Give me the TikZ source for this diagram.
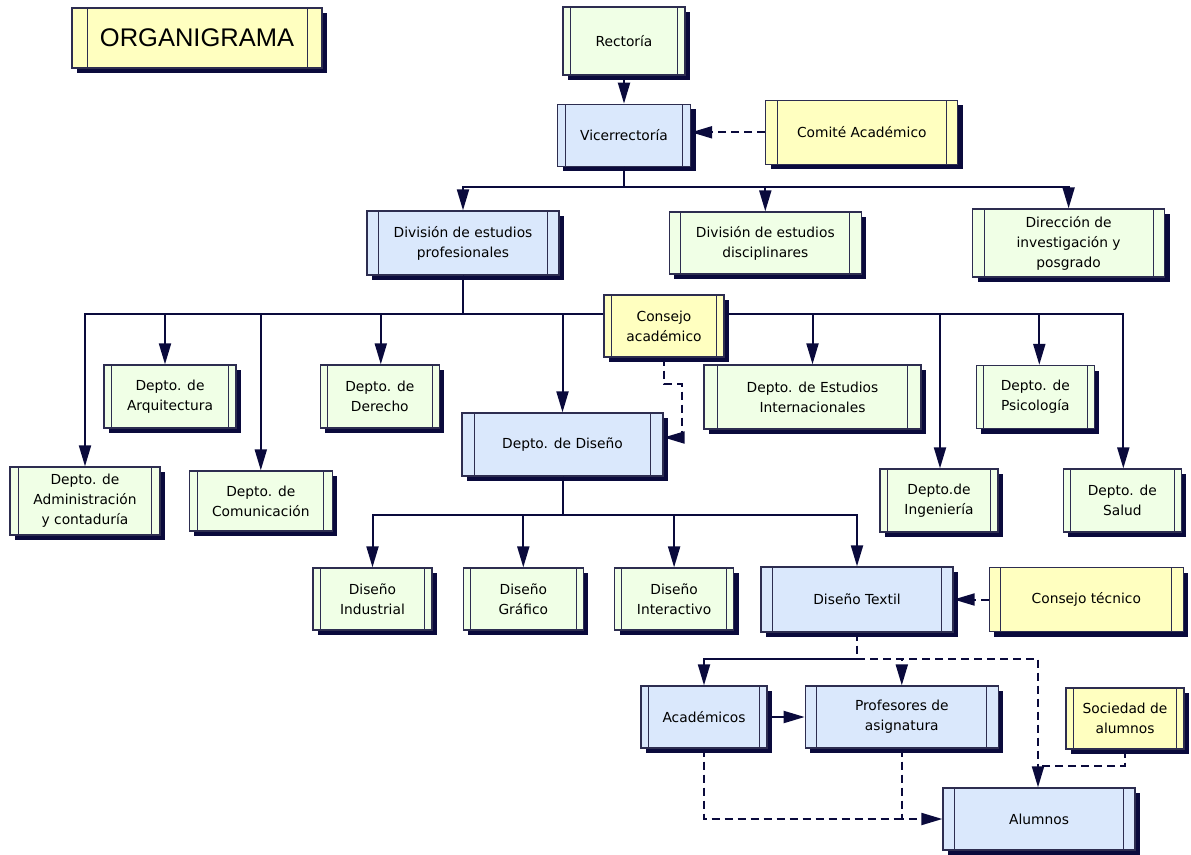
\documentclass[tikz,border=0pt]{standalone}
\usepackage{fontspec}
\setmainfont{DejaVu Sans}
\newfontfamily\titlefont{Liberation Sans}
\usetikzlibrary{positioning,calc,shadows,arrows.meta}

\definecolor{boxblue}{RGB}{218,232,252}
\definecolor{boxgreen}{RGB}{240,255,230}
\definecolor{boxyellow}{RGB}{255,255,192}
\definecolor{boxline}{RGB}{45,45,80}
\definecolor{navy}{RGB}{10,10,60}

\tikzset{
	orgbox/.style = {draw=boxline, line width=1.3pt, align=center, inner sep=2pt,
		font=\fontsize{13.8}{20}\selectfont,
		drop shadow={shadow xshift=5pt, shadow yshift=-5pt, fill=navy, opacity=1},
		path picture={
			\draw[boxline, line width=1pt]
				($(path picture bounding box.north west)!0.06!(path picture bounding box.north east)$)
				-- ($(path picture bounding box.south west)!0.06!(path picture bounding box.south east)$)
				($(path picture bounding box.north east)!0.06!(path picture bounding box.north west)$)
				-- ($(path picture bounding box.south east)!0.06!(path picture bounding box.south west)$);
		}},
	bluebox/.style = {orgbox, fill=boxblue},
	greenbox/.style = {orgbox, fill=boxgreen},
	yellowbox/.style = {orgbox, fill=boxyellow},
	conn/.style = {draw=navy, line width=2pt},
	conarrow/.style = {conn, -{Triangle[length=21pt, width=12pt]}},
	dconn/.style = {conn, dash pattern=on 8pt off 5pt},
	dconarrow/.style = {conarrow, dash pattern=on 8pt off 5pt},
}

\begin{document}
\begin{tikzpicture}[x=1pt, y=-1pt]
		\useasboundingbox (0,0) rectangle (1191,854);

		\node[yellowbox, minimum width=250pt, minimum height=60pt, font=\titlefont\fontsize{25.5}{30}\selectfont] (titulo) at (197,38) {ORGANIGRAMA};

		\node[greenbox, minimum width=122pt, minimum height=68pt] (rect) at (624,41) {Rectoría};
		\node[bluebox, minimum width=133pt, minimum height=62pt, below = 28pt of rect] (vice) {Vicerrectoría};
		\node[yellowbox, minimum width=192pt, minimum height=64pt, right = 74pt of vice, yshift=3pt] (comite) {Comité Académico};

		\node[bluebox, minimum width=192pt, minimum height=64pt] (divprof) at (463,243) {División de estudios\\profesionales};
		\node[greenbox, minimum width=192pt, minimum height=62pt, right = 109pt of divprof] (divdis) {División de estudios\\disciplinares};
		\node[greenbox, minimum width=192pt, minimum height=68pt, right = 110pt of divdis] (dirinv) {Dirección de\\investigación y\\posgrado};

		\node[greenbox, minimum width=132pt, minimum height=63pt] (arq) at (170,396.5) {Depto. de\\Arquitectura};
		\node[greenbox, minimum width=119pt, minimum height=63pt, right = 83pt of arq] (der) {Depto. de\\Derecho};
		\node[greenbox, minimum width=217pt, minimum height=64pt] (intl) at (812.5,397) {Depto. de Estudios\\Internacionales};
		\node[greenbox, minimum width=118pt, minimum height=63pt, right = 54pt of intl] (psi) {Depto. de\\Psicología};

		\node[greenbox, minimum width=150pt, minimum height=68pt] (adm) at (85,501) {Depto. de\\Administración\\y contaduría};
		\node[greenbox, minimum width=143pt, minimum height=60pt, right = 28pt of adm] (com) {Depto. de\\Comunicación};
		\node[greenbox, minimum width=118pt, minimum height=63pt] (ing) at (939,500.5) {Depto.de\\Ingeniería};
		\node[greenbox, minimum width=118pt, minimum height=63pt, right = 64pt of ing] (sal) {Depto. de\\Salud};

		\node[bluebox, minimum width=201pt, minimum height=63pt] (disen) at (562.5,444.5) {Depto. de Diseño};

		\node[greenbox, minimum width=119pt, minimum height=62pt] (ind) at (372.5,599) {Diseño\\Industrial};
		\node[greenbox, minimum width=120pt, minimum height=62pt, right = 30pt of ind] (graf) {Diseño\\Gráfico};
		\node[greenbox, minimum width=119pt, minimum height=62pt, right = 30pt of graf] (inter) {Diseño\\Interactivo};
		\node[bluebox, minimum width=192pt, minimum height=65pt] (textil) at (857,599.5) {Diseño Textil};
		\node[yellowbox, minimum width=194pt, minimum height=64pt, right = 35pt of textil] (ctec) {Consejo técnico};

		\node[bluebox, minimum width=126pt, minimum height=62pt] (acad) at (704,717) {Académicos};
		\node[bluebox, minimum width=193pt, minimum height=62pt, right = 37pt of acad] (prof) {Profesores de\\asignatura};
		\node[yellowbox, minimum width=118pt, minimum height=61pt] (soc) at (1125,718.5) {Sociedad de\\alumnos};
		\node[bluebox, minimum width=192pt, minimum height=62pt] (alum) at (1039,819) {Alumnos};

		\draw[conarrow] (rect) -- (vice);
		\draw[dconarrow] (comite.west) -- (comite.west -| vice.east);
		\foreach \n in {divprof,divdis,dirinv}
			\draw[conarrow] (vice.south) -- ++(0,20) -| (\n.north);
		\foreach \n/\s in {adm/0,arq/-5,com/0,der/1,disen/0,intl/0,ing/1,psi/4,sal/1}
			\draw[conarrow] (divprof.south) -- ++(0,38) -| ([xshift=\s pt]\n.north);

		\node[yellowbox, minimum width=120pt, minimum height=62pt] (conac) at (664,326) {Consejo\\académico};
		\draw[dconarrow] (conac.south) -- ++(0,26) -- ++(18,0) |- ([yshift=7pt]disen.east);

		\foreach \n in {ind,graf,inter,textil}
			\draw[conarrow] (disen.south) -- ++(0,38) -| (\n.north);
		\draw[dconarrow] (ctec) -- (textil);

		\draw[dconn] (textil.south) -- ++(0,26) coordinate (tj);
		\draw[conarrow] (tj) -| (acad.north);
		\draw[dconarrow] (tj) -| (prof.north);
		\draw[dconarrow] (tj) -| ([xshift=-1pt]alum.north);
		\draw[dconn] (soc.south) -- ++(0,16) coordinate (sj) -- (sj -| alum.north);
		\draw[conarrow] (acad) -- (prof);
		\draw[dconarrow] (prof.south) |- (alum.west);
		\draw[dconn] (acad.south) |- (prof.south |- alum.west);
\end{tikzpicture}
\end{document}
